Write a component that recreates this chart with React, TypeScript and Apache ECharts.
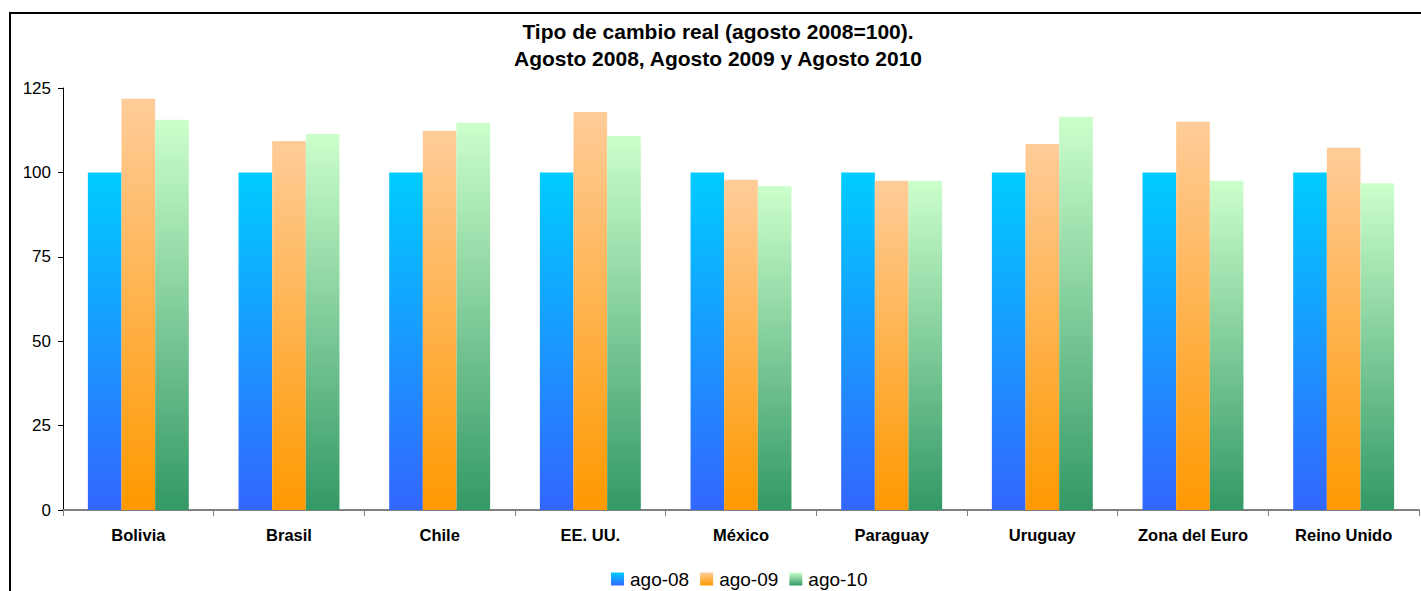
import React, { useEffect, useRef } from "react";
import * as echarts from "echarts";

const categories = ["Bolivia", "Brasil", "Chile", "EE. UU.", "México", "Paraguay", "Uruguay", "Zona del Euro", "Reino Unido"];
const seriesNames = ["ago-08", "ago-09", "ago-10"];
const ago08 = [100, 100, 100, 100, 100, 100, 100, 100, 100];
const ago09 = [121.8, 109.3, 112.3, 117.9, 97.8, 97.5, 108.4, 115.0, 107.3];
const ago10 = [115.6, 111.4, 114.7, 110.8, 96.0, 97.5, 116.5, 97.5, 96.8];
const yTicks = [0, 25, 50, 75, 100, 125];

const gradients: [string, string][] = [
  ["#00CCFF", "#3366FF"],
  ["#FFCC99", "#FF9900"],
  ["#CCFFCC", "#339966"],
];

export default function App() {
  const ref = useRef<HTMLDivElement>(null);
  useEffect(() => {
    if (!ref.current) return;
    const chart = echarts.init(ref.current, undefined, { renderer: "svg" });
    const data = [ago08, ago09, ago10];
    chart.setOption({
      animation: false,
      backgroundColor: "#ffffff",
      textStyle: { fontFamily: "Liberation Sans, Arial, sans-serif" },
      title: {
        text: "Tipo de cambio real (agosto 2008=100).\nAgosto 2008, Agosto 2009 y Agosto 2010",
        left: 718,
        textAlign: "center",
        top: 18,
        padding: 0,
        textStyle: {
          fontSize: 21,
          fontWeight: "bold",
          color: "#000",
          lineHeight: 27,
          fontFamily: "Liberation Sans, Arial, sans-serif",
        },
      },
      graphic: [
        {
          type: "polyline",
          shape: { points: [[10, 591], [10, 13], [1421, 13]] },
          style: { stroke: "#000", lineWidth: 2, fill: "none" },
          silent: true,
        },
      ],
      legend: {
        data: seriesNames,
        left: 611,
        top: 567,
        padding: 0,
        itemWidth: 13,
        itemHeight: 13,
        itemGap: 11,
        icon: "rect",
        textStyle: { fontSize: 19, lineHeight: 24, color: "#000", padding: [0, 0, 0, 1] },
      },
      grid: { left: 63, right: 2, top: 88, bottom: 81, containLabel: false },
      xAxis: {
        type: "category",
        data: categories,
        axisLine: { lineStyle: { color: "#808080", width: 2 } },
        axisTick: { show: true, alignWithLabel: false, length: 6, lineStyle: { color: "#808080" } },
        axisLabel: { fontSize: 16.5, fontWeight: "bold", color: "#000", margin: 16, interval: 0 },
      },
      yAxis: {
        type: "value",
        min: yTicks[0],
        max: yTicks[yTicks.length - 1],
        interval: 25,
        splitLine: { show: false },
        axisLine: { show: true, lineStyle: { color: "#000", width: 1 } },
        axisTick: { show: true, length: 5, lineStyle: { color: "#000" } },
        axisLabel: { fontSize: 17, color: "#000", margin: 12 },
      },
      series: seriesNames.map((name, i) => ({
        name,
        type: "bar",
        data: data[i],
        barGap: "0%",
        barCategoryGap: "33%",
        itemStyle: {
          color: new echarts.graphic.LinearGradient(0, 0, 0, 1, [
            { offset: 0, color: gradients[i][0] },
            { offset: 1, color: gradients[i][1] },
          ]),
        },
      })),
    });
    return () => chart.dispose();
  }, []);
  return <div ref={ref} style={{ position: "absolute", left: 0, top: 0, width: 1421, height: 591 }} />;
}
